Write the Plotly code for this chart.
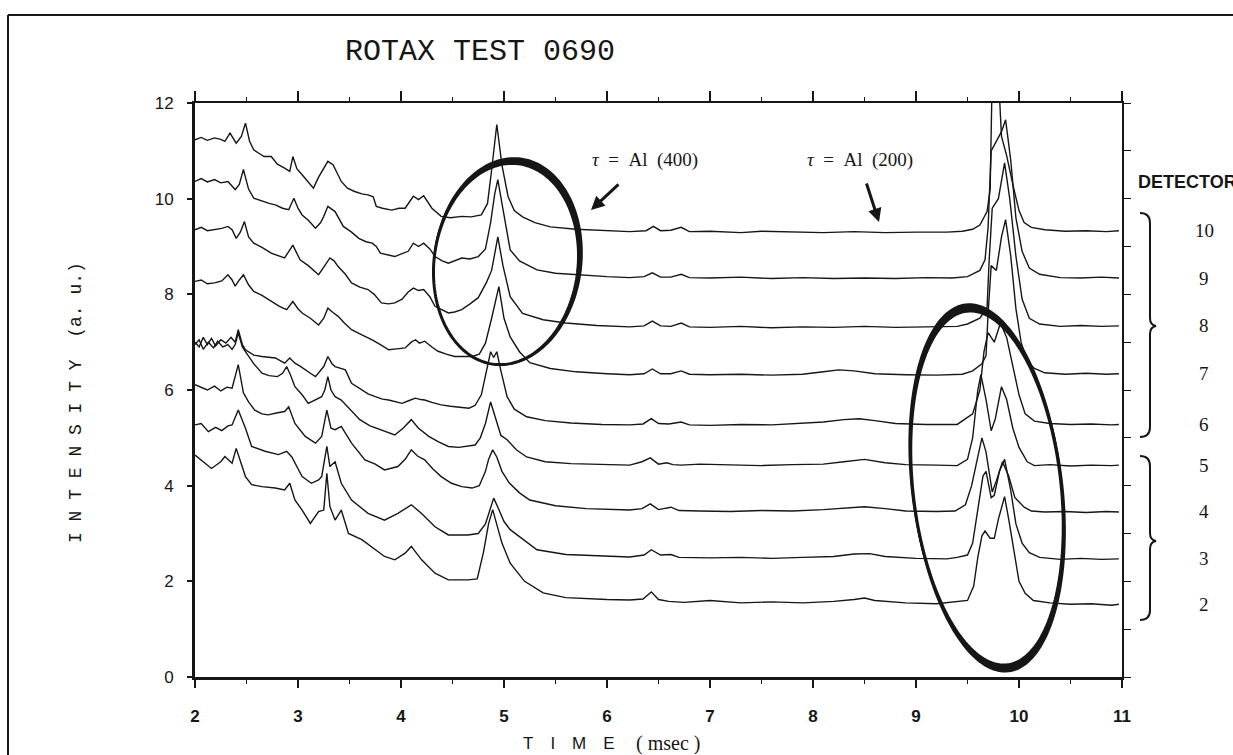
import numpy as np
import plotly.graph_objects as go

# ---------------- data (time in msec, intensity a.u.) ----------------
det10_x = [2.00, 2.06, 2.12, 2.19, 2.25, 2.29, 2.34, 2.40, 2.45, 2.49, 2.53, 2.57, 2.62, 2.67, 2.74, 2.80, 2.87, 2.92, 2.95, 2.99,
           3.04, 3.10, 3.15, 3.20, 3.25, 3.29, 3.34, 3.38, 3.42, 3.48, 3.55, 3.62, 3.68, 3.73, 3.76, 3.82, 3.91, 3.98, 4.04, 4.12,
           4.17, 4.22, 4.30, 4.39, 4.48, 4.59, 4.68, 4.78, 4.84, 4.88, 4.93, 4.98, 5.04, 5.10, 5.18, 5.30, 5.45, 5.70, 6.00, 6.22,
           6.38, 6.45, 6.52, 6.62, 6.72, 6.80, 7.00, 7.30, 7.50, 7.80, 8.10, 8.40, 8.70, 9.00, 9.30, 9.45, 9.55, 9.62, 9.66, 9.69,
           9.72, 9.74, 9.77, 9.80, 9.83, 9.88, 9.94, 10.00, 10.05, 10.12, 10.25, 10.45, 10.65, 10.85, 10.97]
det10_y = [11.23, 11.28, 11.22, 11.27, 11.24, 11.20, 11.37, 11.16, 11.30, 11.58, 11.20, 11.02, 10.95, 10.88, 10.88, 10.72, 10.64, 10.57, 10.88, 10.62,
           10.50, 10.35, 10.22, 10.45, 10.64, 10.78, 10.71, 10.55, 10.36, 10.22, 10.15, 10.10, 10.08, 10.04, 9.84, 9.80, 9.76, 9.80, 9.80, 10.05,
           9.98, 10.06, 9.80, 9.63, 9.60, 9.63, 9.62, 9.66, 9.90, 10.60, 11.55, 10.70, 10.04, 9.75, 9.62, 9.50, 9.41, 9.36, 9.33, 9.31,
           9.33, 9.42, 9.33, 9.34, 9.40, 9.31, 9.32, 9.29, 9.32, 9.30, 9.29, 9.31, 9.29, 9.30, 9.30, 9.32, 9.36, 9.45, 9.60, 9.73,
           10.20, 12.60, 13.50, 12.60, 11.30, 10.90, 10.30, 9.75, 9.50, 9.40, 9.35, 9.32, 9.33, 9.31, 9.33]

det9_x = [2.00, 2.06, 2.12, 2.19, 2.25, 2.32, 2.39, 2.43, 2.47, 2.52, 2.57, 2.65, 2.72, 2.78, 2.85, 2.91, 2.96, 3.00, 3.04, 3.10,
          3.17, 3.22, 3.25, 3.29, 3.36, 3.44, 3.52, 3.59, 3.66, 3.72, 3.76, 3.80, 3.87, 3.94, 4.01, 4.07, 4.12, 4.17, 4.22, 4.28,
          4.33, 4.40, 4.46, 4.52, 4.59, 4.67, 4.75, 4.82, 4.87, 4.91, 4.94, 4.98, 5.06, 5.15, 5.32, 5.50, 5.75, 6.00, 6.22, 6.36,
          6.44, 6.52, 6.62, 6.72, 6.80, 7.00, 7.30, 7.60, 7.90, 8.20, 8.50, 8.80, 9.10, 9.35, 9.50, 9.62, 9.67, 9.70, 9.73, 9.78,
          9.83, 9.87, 9.92, 9.97, 10.03, 10.10, 10.20, 10.40, 10.60, 10.80, 10.97]
det9_y = [10.36, 10.42, 10.35, 10.40, 10.33, 10.36, 10.19, 10.30, 10.61, 10.20, 10.01, 9.95, 9.90, 9.87, 9.80, 9.77, 10.01, 9.80, 9.66, 9.55,
          9.38, 9.50, 9.63, 9.84, 9.73, 9.42, 9.30, 9.17, 9.10, 9.07, 9.00, 8.86, 8.82, 8.79, 8.85, 8.90, 9.07, 9.00, 9.07, 8.95,
          8.79, 8.70, 8.65, 8.70, 8.76, 8.74, 8.79, 8.95, 9.50, 10.10, 10.40, 9.90, 8.93, 8.70, 8.51, 8.44, 8.40, 8.37, 8.35, 8.37,
          8.45, 8.36, 8.36, 8.42, 8.35, 8.34, 8.36, 8.33, 8.35, 8.33, 8.34, 8.33, 8.35, 8.34, 8.37, 8.50, 8.72, 9.40, 11.00, 11.20,
          11.40, 11.65, 10.80, 9.60, 8.90, 8.55, 8.42, 8.35, 8.34, 8.36, 8.34]

det8_x = [2.00, 2.06, 2.12, 2.19, 2.26, 2.32, 2.36, 2.40, 2.44, 2.48, 2.52, 2.57, 2.65, 2.74, 2.81, 2.87, 2.95, 3.02, 3.10, 3.20,
          3.26, 3.31, 3.35, 3.39, 3.46, 3.52, 3.60, 3.68, 3.74, 3.81, 3.88, 3.94, 4.01, 4.07, 4.12, 4.17, 4.22, 4.28, 4.33, 4.40,
          4.46, 4.52, 4.59, 4.67, 4.75, 4.83, 4.88, 4.94, 4.99, 5.06, 5.18, 5.38, 5.60, 5.90, 6.22, 6.36, 6.44, 6.52, 6.62, 6.72,
          6.80, 7.00, 7.30, 7.60, 7.90, 8.20, 8.50, 8.80, 9.10, 9.40, 9.50, 9.62, 9.69, 9.71, 9.74, 9.80, 9.86, 9.91, 9.97, 10.03,
          10.10, 10.20, 10.40, 10.60, 10.80, 10.97]
det8_y = [9.35, 9.40, 9.33, 9.35, 9.38, 9.42, 9.35, 9.17, 9.30, 9.52, 9.20, 9.07, 8.98, 8.86, 8.80, 8.76, 9.03, 8.72, 8.60, 8.41,
          8.60, 8.76, 8.70, 8.58, 8.42, 8.24, 8.15, 8.10, 8.00, 7.82, 7.80, 7.82, 7.90, 8.05, 8.13, 8.08, 8.10, 7.95, 7.75, 7.68,
          7.61, 7.63, 7.68, 7.80, 7.93, 8.25, 8.50, 9.20, 8.60, 7.95, 7.60, 7.47, 7.40, 7.35, 7.32, 7.34, 7.44, 7.34, 7.33, 7.40,
          7.32, 7.31, 7.33, 7.30, 7.32, 7.31, 7.33, 7.31, 7.32, 7.33, 7.38, 7.50, 7.72, 8.70, 9.80, 10.00, 10.75, 10.00, 8.80, 7.90,
          7.50, 7.38, 7.33, 7.35, 7.33, 7.34]

det7_x = [2.00, 2.06, 2.12, 2.19, 2.26, 2.32, 2.36, 2.39, 2.43, 2.47, 2.52, 2.57, 2.65, 2.74, 2.82, 2.89, 2.95, 3.00, 3.04, 3.12,
          3.20, 3.25, 3.29, 3.34, 3.39, 3.45, 3.52, 3.62, 3.72, 3.80, 3.88, 3.96, 4.04, 4.10, 4.14, 4.18, 4.23, 4.30, 4.36, 4.44,
          4.52, 4.60, 4.69, 4.76, 4.82, 4.88, 4.95, 5.00, 5.06, 5.15, 5.25, 5.45, 5.70, 6.00, 6.22, 6.36, 6.44, 6.52, 6.62, 6.72,
          6.80, 7.00, 7.30, 7.60, 7.90, 8.10, 8.25, 8.40, 8.60, 8.90, 9.20, 9.45, 9.55, 9.64, 9.68, 9.70, 9.73, 9.78, 9.83, 9.87,
          9.92, 9.97, 10.02, 10.08, 10.15, 10.25, 10.45, 10.65, 10.85, 10.97]
det7_y = [8.27, 8.30, 8.22, 8.24, 8.28, 8.41, 8.30, 8.17, 8.30, 8.41, 8.20, 8.06, 7.98, 7.85, 7.75, 7.68, 7.85, 7.70, 7.61, 7.50,
          7.36, 7.50, 7.71, 7.62, 7.54, 7.40, 7.26, 7.15, 7.05, 6.95, 6.84, 6.86, 6.88, 7.00, 7.05, 6.98, 7.02, 6.90, 6.81, 6.75,
          6.70, 6.70, 6.70, 6.75, 6.98, 7.50, 8.16, 7.50, 7.11, 6.80, 6.57, 6.45, 6.38, 6.34, 6.32, 6.34, 6.44, 6.34, 6.34, 6.40,
          6.33, 6.32, 6.33, 6.31, 6.33, 6.38, 6.42, 6.40, 6.34, 6.32, 6.31, 6.33, 6.40, 6.55, 6.72, 7.60, 8.60, 8.50, 9.20, 9.56,
          8.80, 7.70, 7.00, 6.60, 6.45, 6.36, 6.33, 6.35, 6.33, 6.34]

det6_x = [2.00, 2.04, 2.08, 2.12, 2.16, 2.20, 2.25, 2.30, 2.35, 2.39, 2.42, 2.46, 2.49, 2.57, 2.65, 2.72, 2.78, 2.84, 2.87, 2.92,
          2.97, 3.02, 3.07, 3.12, 3.17, 3.21, 3.25, 3.29, 3.33, 3.36, 3.41, 3.46, 3.52, 3.58, 3.62, 3.68, 3.75, 3.82, 3.88, 3.95,
          4.01, 4.08, 4.14, 4.19, 4.23, 4.30, 4.39, 4.48, 4.59, 4.66, 4.72, 4.78, 4.83, 4.87, 4.90, 4.93, 4.97, 5.03, 5.10, 5.22,
          5.40, 5.65, 5.95, 6.22, 6.35, 6.43, 6.50, 6.60, 6.72, 6.80, 7.00, 7.30, 7.60, 7.90, 8.10, 8.30, 8.45, 8.60, 8.80, 9.10,
          9.40, 9.55, 9.62, 9.66, 9.70, 9.76, 9.82, 9.88, 9.94, 10.00, 10.06, 10.15, 10.30, 10.50, 10.70, 10.90, 10.97]
det6_y = [7.00, 6.90, 7.10, 6.95, 7.08, 6.92, 7.05, 6.98, 7.10, 7.00, 7.26, 6.95, 6.84, 6.73, 6.70, 6.68, 6.67, 6.60, 6.56, 6.67,
          6.56, 6.50, 6.42, 6.35, 6.28, 6.38, 6.49, 6.70, 6.55, 6.49, 6.45, 6.42, 6.14, 6.06, 6.00, 5.92, 5.86, 5.81, 5.79, 5.76,
          5.72, 5.78, 5.83, 5.80, 5.79, 5.74, 5.69, 5.66, 5.63, 5.62, 5.68, 5.90, 6.40, 6.80, 6.68, 6.80, 6.40, 5.86, 5.60, 5.44,
          5.36, 5.31, 5.28, 5.27, 5.29, 5.40, 5.30, 5.29, 5.33, 5.27, 5.26, 5.28, 5.27, 5.30, 5.33, 5.38, 5.40, 5.36, 5.30, 5.28,
          5.28, 5.50, 6.00, 6.80, 7.20, 7.00, 7.40, 7.10, 6.50, 5.90, 5.50, 5.35, 5.30, 5.28, 5.29, 5.27, 5.28]

det5_x = [2.00, 2.04, 2.08, 2.13, 2.18, 2.22, 2.27, 2.32, 2.36, 2.39, 2.42, 2.46, 2.49, 2.57, 2.65, 2.72, 2.80, 2.85, 2.89, 2.93,
          2.97, 3.04, 3.10, 3.17, 3.23, 3.26, 3.29, 3.32, 3.36, 3.42, 3.50, 3.60, 3.70, 3.81, 3.94, 4.02, 4.10, 4.17, 4.27, 4.36,
          4.46, 4.56, 4.65, 4.72, 4.77, 4.82, 4.87, 4.92, 4.97, 5.03, 5.12, 5.22, 5.40, 5.65, 5.95, 6.22, 6.34, 6.42, 6.50, 6.58,
          6.64, 6.72, 6.90, 7.20, 7.50, 7.80, 8.10, 8.30, 8.50, 8.70, 8.90, 9.20, 9.40, 9.50, 9.55, 9.60, 9.63, 9.68, 9.73, 9.77,
          9.83, 9.88, 9.94, 10.00, 10.08, 10.15, 10.30, 10.50, 10.70, 10.90, 10.97]
det5_y = [6.95, 7.05, 6.85, 7.00, 6.88, 7.02, 6.90, 6.95, 6.85, 6.95, 7.19, 6.90, 6.80, 6.55, 6.35, 6.30, 6.28, 6.35, 6.49, 6.30,
          6.07, 5.90, 5.72, 5.80, 5.86, 6.00, 6.28, 6.00, 5.86, 5.79, 5.60, 5.38, 5.25, 5.17, 5.06, 5.20, 5.38, 5.20, 5.03, 4.92,
          4.82, 4.80, 4.82, 4.85, 5.00, 5.30, 5.75, 5.40, 5.05, 4.96, 4.75, 4.60, 4.50, 4.46, 4.45, 4.43, 4.50, 4.58, 4.45, 4.48,
          4.44, 4.43, 4.45, 4.43, 4.42, 4.44, 4.45, 4.50, 4.55, 4.48, 4.44, 4.43, 4.42, 4.55, 5.00, 6.00, 6.32, 5.80, 5.15, 5.40,
          6.07, 5.80, 5.20, 4.80, 4.50, 4.42, 4.44, 4.41, 4.43, 4.42, 4.43]

det4_x = [2.00, 2.06, 2.12, 2.19, 2.25, 2.31, 2.36, 2.42, 2.47, 2.52, 2.58, 2.65, 2.71, 2.79, 2.87, 2.91, 2.97, 3.07, 3.17, 3.23,
          3.28, 3.32, 3.36, 3.42, 3.52, 3.65, 3.75, 3.84, 3.97, 4.04, 4.10, 4.16, 4.23, 4.31, 4.39, 4.49, 4.59, 4.69, 4.76, 4.82,
          4.85, 4.89, 4.93, 4.98, 5.05, 5.15, 5.25, 5.50, 5.80, 6.22, 6.34, 6.42, 6.50, 6.62, 6.70, 6.90, 7.20, 7.50, 7.80, 8.10,
          8.30, 8.50, 8.70, 8.90, 9.20, 9.38, 9.48, 9.54, 9.60, 9.64, 9.68, 9.74, 9.78, 9.84, 9.90, 9.96, 10.05, 10.12, 10.25, 10.45,
          10.65, 10.85, 10.97]
det4_y = [6.11, 6.05, 6.00, 6.08, 5.98, 6.06, 6.04, 6.53, 5.94, 5.75, 5.58, 5.50, 5.48, 5.52, 5.55, 5.65, 5.30, 5.03, 4.89, 5.03,
          5.58, 5.20, 5.17, 5.24, 4.89, 4.54, 4.45, 4.33, 4.40, 4.55, 4.75, 4.62, 4.54, 4.35, 4.19, 4.05, 3.98, 3.95, 4.00, 4.30,
          4.55, 4.75, 4.60, 4.30, 4.06, 3.85, 3.70, 3.58, 3.52, 3.49, 3.52, 3.62, 3.50, 3.55, 3.48, 3.47, 3.46, 3.48, 3.47, 3.50,
          3.53, 3.56, 3.52, 3.47, 3.46, 3.47, 3.60, 4.00, 4.60, 5.00, 4.70, 3.87, 4.10, 4.50, 4.20, 3.75, 3.55, 3.47, 3.45, 3.46,
          3.44, 3.46, 3.45]

det3_x = [2.00, 2.06, 2.13, 2.20, 2.26, 2.32, 2.36, 2.42, 2.49, 2.55, 2.68, 2.81, 2.89, 2.94, 3.04, 3.13, 3.20, 3.23, 3.28, 3.31,
          3.36, 3.42, 3.52, 3.68, 3.84, 3.97, 4.10, 4.20, 4.33, 4.46, 4.65, 4.75, 4.82, 4.87, 4.90, 4.95, 5.00, 5.06, 5.32, 5.60,
          6.00, 6.22, 6.36, 6.43, 6.52, 6.62, 6.70, 7.00, 7.30, 7.60, 7.90, 8.20, 8.40, 8.55, 8.70, 9.00, 9.30, 9.40, 9.50, 9.55,
          9.60, 9.65, 9.68, 9.73, 9.76, 9.81, 9.86, 9.92, 9.97, 10.03, 10.10, 10.20, 10.40, 10.60, 10.80, 10.97]
det3_y = [5.27, 5.30, 5.13, 5.22, 5.15, 5.25, 5.27, 5.58, 5.20, 4.82, 4.72, 4.65, 4.72, 4.60, 4.19, 4.05, 4.12, 4.19, 4.82, 4.40,
          4.50, 4.05, 3.70, 3.42, 3.28, 3.42, 3.60, 3.42, 3.14, 2.97, 2.97, 3.00, 3.20, 3.55, 3.74, 3.50, 3.25, 3.08, 2.66, 2.56,
          2.52, 2.51, 2.55, 2.66, 2.55, 2.56, 2.50, 2.49, 2.50, 2.48, 2.50, 2.52, 2.57, 2.58, 2.52, 2.48, 2.47, 2.50, 2.55, 2.80,
          3.50, 4.20, 4.30, 3.75, 3.80, 4.30, 4.55, 3.90, 3.20, 2.80, 2.60, 2.50, 2.46, 2.48, 2.46, 2.47]

det2_x = [2.00, 2.06, 2.16, 2.25, 2.29, 2.36, 2.40, 2.49, 2.55, 2.65, 2.78, 2.87, 2.92, 2.97, 3.04, 3.12, 3.20, 3.25, 3.28, 3.31,
          3.36, 3.42, 3.49, 3.62, 3.75, 3.84, 3.94, 4.04, 4.10, 4.20, 4.33, 4.46, 4.65, 4.74, 4.80, 4.85, 4.89, 4.93, 4.98, 5.06,
          5.20, 5.38, 5.60, 6.00, 6.22, 6.35, 6.43, 6.50, 6.60, 6.75, 7.00, 7.30, 7.60, 7.90, 8.20, 8.40, 8.50, 8.60, 8.90, 9.20,
          9.40, 9.50, 9.56, 9.60, 9.64, 9.67, 9.72, 9.76, 9.80, 9.86, 9.90, 9.95, 10.00, 10.06, 10.14, 10.30, 10.50, 10.70, 10.90, 10.97]
det2_y = [4.64, 4.54, 4.36, 4.50, 4.61, 4.47, 4.78, 4.19, 4.02, 3.98, 3.95, 3.91, 4.05, 3.70, 3.49, 3.21, 3.46, 3.49, 4.26, 3.56,
          3.28, 3.49, 3.00, 2.87, 2.66, 2.52, 2.45, 2.59, 2.73, 2.45, 2.17, 2.03, 2.03, 2.05, 2.60, 3.20, 3.50, 3.20, 2.80, 2.38,
          2.00, 1.76, 1.66, 1.62, 1.61, 1.63, 1.78, 1.62, 1.58, 1.56, 1.60, 1.55, 1.57, 1.55, 1.58, 1.62, 1.65, 1.60, 1.55, 1.53,
          1.57, 1.60, 1.90, 2.50, 2.95, 3.05, 2.90, 2.90, 3.30, 3.77, 3.30, 2.60, 2.00, 1.75, 1.60, 1.55, 1.52, 1.53, 1.50, 1.52]

detector_names = ["10", "9", "8", "7", "6", "5", "4", "3", "2"]
series_x = [det10_x, det9_x, det8_x, det7_x, det6_x, det5_x, det4_x, det3_x, det2_x]
series_y = [det10_y, det9_y, det8_y, det7_y, det6_y, det5_y, det4_y, det3_y, det2_y]

x_range = [2, 11]
y_range = [0, 12]

# ---------------- geometry helpers (pixel -> paper) ----------------
W, H = 1233, 755
PL, PR, PT, PB = 195, 1122, 103, 677
INK = "#161616"


def xp(p):
    return (p - PL) / (PR - PL)


def yp(p):
    return (PB - p) / (PB - PT)


def ellipse_pts(cx, cy, a, b, ang, scale=1.0, anchor=None, n=180):
    t = np.linspace(0, 2 * np.pi, n, endpoint=False)
    ca, sa = np.cos(np.radians(ang)), np.sin(np.radians(ang))
    lx, ly = a * np.cos(t), b * np.sin(t)
    X = cx + lx * ca - ly * sa
    Y = cy + lx * sa + ly * ca
    if anchor is not None:
        alx, aly = a * np.cos(np.radians(anchor)), b * np.sin(np.radians(anchor))
        AX, AY = cx + alx * ca - aly * sa, cy + alx * sa + aly * ca
        X = AX + scale * (X - AX)
        Y = AY + scale * (Y - AY)
    return X, Y


def closed_path(X, Y):
    pts = [f"{xp(x):.5f},{yp(y):.5f}" for x, y in zip(X, Y)]
    return "M " + " L ".join(pts) + " Z"


def pix_path(cmds):
    out = []
    for c in cmds:
        if isinstance(c, str):
            out.append(c)
        else:
            out.append(f"{xp(c[0]):.5f},{yp(c[1]):.5f}")
    return " ".join(out)


# ---------------- figure ----------------
fig = go.Figure()
for name, xs, ys in zip(detector_names, series_x, series_y):
    assert len(xs) == len(ys), name
    fig.add_trace(go.Scatter(x=xs, y=ys, mode="lines", name="Detector " + name,
                             line=dict(color=INK, width=1.4), hoverinfo="skip",
                             showlegend=False))
# carrier for the top / right frame axes
fig.add_trace(go.Scatter(x=[None], y=[None], xaxis="x2", yaxis="y2", mode="lines",
                         showlegend=False, hoverinfo="skip"))

fig.update_layout(
    width=W, height=H,
    margin=dict(l=PL, r=W - PR, t=PT, b=H - PB, pad=0),
    paper_bgcolor="white", plot_bgcolor="white",
    showlegend=False, hovermode=False,
    xaxis=dict(range=x_range, tick0=2, dtick=1, ticks="outside", ticklen=8, tickwidth=1.5,
               tickcolor=INK, showline=True, linewidth=3, linecolor=INK, showgrid=False,
               zeroline=False, ticklabelstandoff=14,
               tickfont=dict(family="Liberation Sans", size=17, color=INK, weight="bold"),
               minor=dict(tick0=2, dtick=0.5, ticks="outside", ticklen=4, tickwidth=1.2,
                          tickcolor=INK, showgrid=False)),
    yaxis=dict(range=y_range, tick0=0, dtick=2, ticks="outside", ticklen=5, tickwidth=1.5,
               tickcolor=INK, showline=True, linewidth=3, linecolor=INK, showgrid=False,
               zeroline=False, ticklabelstandoff=10,
               tickfont=dict(family="Liberation Sans", size=17, color=INK)),
    xaxis2=dict(overlaying="x", side="top", anchor="y", range=x_range, tick0=2, dtick=1,
                ticks="outside", ticklen=10, tickwidth=1.5, tickcolor=INK, showline=True,
                linewidth=2, linecolor=INK, showticklabels=False, showgrid=False, zeroline=False,
                minor=dict(tick0=2, dtick=0.5, ticks="outside", ticklen=4, tickwidth=1.2,
                           tickcolor=INK, showgrid=False)),
    yaxis2=dict(overlaying="y", side="right", anchor="x", range=y_range, tick0=0, dtick=1,
                ticks="outside", ticklen=7, tickwidth=1.3, tickcolor=INK, showline=True,
                linewidth=2, linecolor=INK, showticklabels=False, showgrid=False, zeroline=False),
)

shapes = []
# outer frame (runs off the right and bottom of the page)
shapes.append(dict(type="line", xref="paper", yref="paper", x0=xp(8), x1=xp(8), y0=yp(15), y1=yp(780),
                   line=dict(color=INK, width=2)))
shapes.append(dict(type="line", xref="paper", yref="paper", x0=xp(8), x1=xp(1260), y0=yp(15), y1=yp(15),
                   line=dict(color=INK, width=2)))

# hand-drawn ellipses: outline + crescent thickening
E1 = dict(cx=506, cy=264, a=72, b=101, ang=7)
E2 = dict(cx=987, cy=488, a=74, b=178, ang=-6.5)

X, Y = ellipse_pts(**E1)
shapes.append(dict(type="path", xref="paper", yref="paper", path=closed_path(X, Y),
                   line=dict(color=INK, width=3)))
Xo, Yo = ellipse_pts(**E1, scale=1.035, anchor=125)
shapes.append(dict(type="path", xref="paper", yref="paper",
                   path=closed_path(Xo, Yo) + " " + closed_path(X, Y),
                   fillcolor=INK, fillrule="evenodd", line=dict(width=0)))

X, Y = ellipse_pts(**E2)
shapes.append(dict(type="path", xref="paper", yref="paper", path=closed_path(X, Y),
                   line=dict(color=INK, width=3)))
for anc in (80, 250):
    Xo, Yo = ellipse_pts(**E2, scale=1.022, anchor=anc)
    shapes.append(dict(type="path", xref="paper", yref="paper",
                       path=closed_path(Xo, Yo) + " " + closed_path(X, Y),
                       fillcolor=INK, fillrule="evenodd", line=dict(width=0)))

# detector braces
brace_up = ["M", (1140, 213), "Q", (1150, 213), (1150, 223), "L", (1150, 318), "Q", (1150, 325), (1156, 326),
            "Q", (1150, 327), (1150, 334), "L", (1150, 427), "Q", (1150, 437), (1140, 437)]
brace_lo = ["M", (1140, 456), "Q", (1150, 456), (1150, 466), "L", (1150, 533), "Q", (1150, 540), (1156, 541),
            "Q", (1150, 542), (1150, 549), "L", (1150, 610), "Q", (1150, 620), (1140, 620)]
for b in (brace_up, brace_lo):
    shapes.append(dict(type="path", xref="paper", yref="paper", path=pix_path(b),
                       line=dict(color=INK, width=2)))
fig.update_layout(shapes=shapes)


def label(text, px_x, px_y, family, size, xanchor="center", angle=0, weight="normal"):
    return dict(text=text, x=xp(px_x), y=yp(px_y), xref="paper", yref="paper",
                xanchor=xanchor, yanchor="middle", textangle=angle, showarrow=False,
                font=dict(family=family, size=size, color=INK, weight=weight))


ann = []
ann.append(label("ROTAX TEST 0690", 480, 52, "Liberation Mono", 30))
ann.append(label("I N T E N S I T Y  (a. u.)", 76, 403, "Liberation Mono", 18, angle=-90))
ann.append(label("T\u2003I\u2003M\u2003E", 569, 743, "Liberation Sans", 17))
ann.append(label("( msec )", 668, 743, "Liberation Serif", 20))
ann.append(label("<i>\u03c4</i>\u2002=\u2002Al\u2002(400)", 645, 160, "Liberation Serif", 19))
ann.append(label("<i>\u03c4</i>\u2002=\u2002Al\u2002(200)", 860, 160, "Liberation Serif", 19))
ann.append(label("DETECTOR", 1136, 182, "Liberation Sans", 18, xanchor="left", weight="bold"))
ann.append(dict(text="", x=xp(591), y=yp(210), xref="paper", yref="paper", ax=29, ay=-27,
                showarrow=True, arrowhead=2, arrowsize=0.9, arrowwidth=3, arrowcolor=INK))
ann.append(dict(text="", x=xp(879), y=yp(222), xref="paper", yref="paper", ax=-13, ay=-40,
                showarrow=True, arrowhead=2, arrowsize=0.9, arrowwidth=3, arrowcolor=INK))
for name, ys in zip(detector_names, series_y):
    ann.append(dict(text=name, x=xp(1204), y=ys[-1], xref="paper", yref="y", showarrow=False,
                    xanchor="center", yanchor="middle",
                    font=dict(family="Liberation Serif", size=19, color=INK)))
fig.update_layout(annotations=ann)

fig.write_html("out.html")
